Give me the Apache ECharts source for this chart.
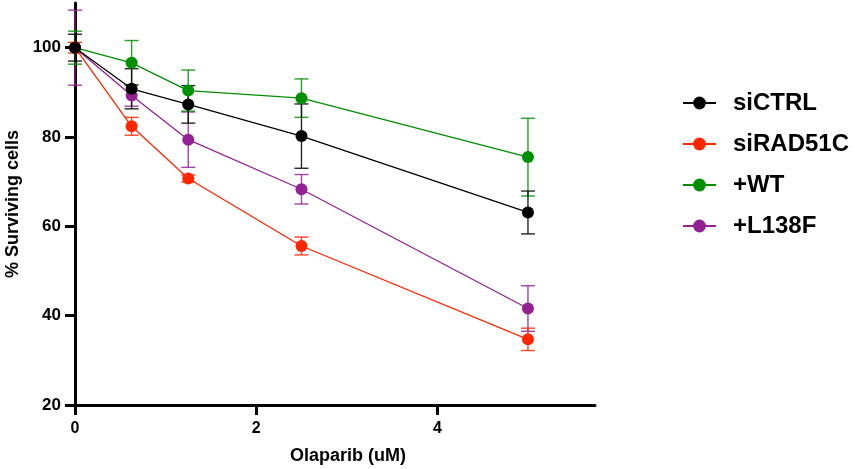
<!DOCTYPE html>
<html>
<head>
<meta charset="utf-8">
<script src="https://cdn.jsdelivr.net/npm/echarts@6/dist/echarts.min.js"></script>
<style>
  html, body { margin: 0; padding: 0; background: #fff; }
  #chart { width: 859px; height: 469px; }
</style>
</head>
<body>
<div id="chart"></div>
<script>
// doses (uM)
var doses = [0, 0.625, 1.25, 2.5, 5];

// mean % surviving cells
var siCTRL = [100, 90.8, 87.3, 80.2, 63.1];
var siRAD51C = [100, 82.4, 70.7, 55.6, 34.7];
var plusWT = [100, 96.6, 90.4, 88.7, 75.5];
var plusL138F = [100, 89.3, 79.4, 68.3, 41.6];

// error (+/-)
var errCTRL = [3, 4.5, 4.2, 7.2, 4.8];
var errRAD51C = [1.2, 2, 0.8, 2, 2.5];
var errWT = [3.7, 5, 4.6, 4.3, 8.7];
var errL138F = [8.4, 2.4, 6.2, 3.3, 5.1];

var yTicks = [20, 40, 60, 80, 100];
var xTicks = [0, 2, 4];

var groups = [
  { name: "+L138F", color: "#942193", vals: plusL138F, err: errL138F },
  { name: "+WT", color: "#008F00", vals: plusWT, err: errWT },
  { name: "siRAD51C", color: "#FF2600", vals: siRAD51C, err: errRAD51C },
  { name: "siCTRL", color: "#000000", vals: siCTRL, err: errCTRL }
];

var font = "'Liberation Sans', Arial, sans-serif";

function pairs(vals) {
  return doses.map(function (d, i) { return [d, vals[i]]; });
}

function errorSeries(g) {
  return {
    type: "custom",
    name: g.name + "_err",
    z: 1,
    silent: true,
    data: doses.map(function (d, i) { return [d, g.vals[i] - g.err[i], g.vals[i] + g.err[i]]; }),
    renderItem: function (params, api) {
      var lo = api.coord([api.value(0), api.value(1)]);
      var hi = api.coord([api.value(0), api.value(2)]);
      var w = 7;
      var style = { stroke: g.color, lineWidth: 1.4, opacity: 0.85 };
      return {
        type: "group",
        children: [
          { type: "line", shape: { x1: lo[0], y1: lo[1], x2: hi[0], y2: hi[1] }, style: style },
          { type: "line", shape: { x1: lo[0] - w, y1: lo[1], x2: lo[0] + w, y2: lo[1] }, style: style },
          { type: "line", shape: { x1: hi[0] - w, y1: hi[1], x2: hi[0] + w, y2: hi[1] }, style: style }
        ]
      };
    }
  };
}

var series = [];
groups.forEach(function (g) { series.push(errorSeries(g)); });
groups.forEach(function (g) {
  series.push({
    type: "line",
    name: g.name,
    z: 3,
    data: pairs(g.vals),
    symbol: "circle",
    symbolSize: 12,
    color: g.color,
    lineStyle: { color: g.color, width: 1.3 },
    itemStyle: { color: g.color },
    emphasis: { disabled: true }
  });
});

var chart = echarts.init(document.getElementById("chart"));
chart.setOption({
  animation: false,
  backgroundColor: "#fff",
  grid: { left: 75, right: 264, top: 3, bottom: 64, outerBoundsMode: "none" },
  legend: {
    orient: "vertical",
    left: 682,
    top: 91,
    padding: 0,
    itemWidth: 33,
    itemHeight: 16,
    itemGap: 17,
    selectedMode: false,
    data: ["siCTRL", "siRAD51C", "+WT", "+L138F"],
    textStyle: { fontFamily: font, fontWeight: "bold", fontSize: 24, lineHeight: 22, color: "#000", padding: [0, 0, 0, 12] }
  },
  xAxis: {
    type: "value",
    min: 0,
    max: 5.74,
    name: "Olaparib (uM)",
    nameLocation: "middle",
    nameGap: 42,
    nameTextStyle: { fontFamily: font, fontWeight: "bold", fontSize: 18, color: "#000", padding: [0, 0, 0, 26] },
    splitLine: { show: false },
    axisLine: { onZero: false, lineStyle: { color: "#000", width: 3 } },
    axisTick: { customValues: xTicks, length: 10, lineStyle: { color: "#000", width: 3 } },
    axisLabel: { customValues: xTicks, margin: 16, fontFamily: font, fontWeight: "bold", fontSize: 16, color: "#000" }
  },
  yAxis: {
    type: "value",
    min: 20,
    max: 110,
    name: "% Surviving cells",
    nameLocation: "middle",
    nameGap: 48,
    nameTextStyle: { fontFamily: font, fontWeight: "bold", fontSize: 18, color: "#000" },
    splitLine: { show: false },
    axisLine: { show: true, onZero: false, lineStyle: { color: "#000", width: 3 } },
    axisTick: { show: true, customValues: yTicks, length: 10, lineStyle: { color: "#000", width: 3 } },
    axisLabel: { customValues: yTicks, margin: 14, fontFamily: font, fontWeight: "bold", fontSize: 17, color: "#000" }
  },
  series: series
});
</script>
</body>
</html>
